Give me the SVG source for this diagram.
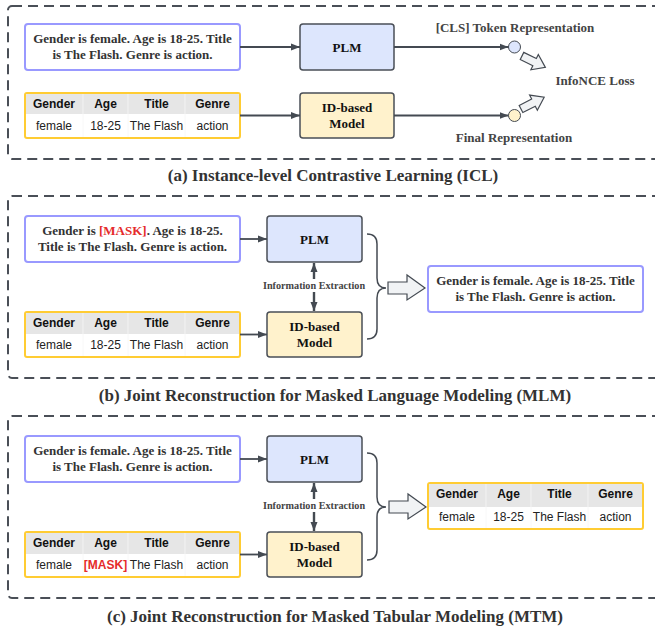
<svg xmlns="http://www.w3.org/2000/svg" width="655" height="629" viewBox="0 0 655 629">
<defs>
<marker id="ah" markerUnits="userSpaceOnUse" markerWidth="10" markerHeight="8" refX="9" refY="4" orient="auto-start-reverse">
<path d="M0,0.5 L9,4 L0,7.5 Z" fill="#444a52"/>
</marker>
<style>
.panel{fill:none;stroke:#4a4f57;stroke-width:2;stroke-dasharray:10 6}
.tbox{fill:#fff;stroke:#9999ff;stroke-width:2}
.tab{fill:#fff;stroke:#ffcc33;stroke-width:2}
.hdr{fill:#e6e6e6}
.div{stroke:#f6f6f6;stroke-width:0.8}
.plm{fill:#dde6fd;stroke:#4a4f57;stroke-width:1.5}
.idm{fill:#fff2cc;stroke:#4a4f57;stroke-width:1.5}
.st{font-family:"Liberation Serif",serif;font-weight:bold;font-size:13px;fill:#333;text-anchor:middle}
.nt{font-family:"Liberation Serif",serif;font-weight:bold;font-size:13px;fill:#111;text-anchor:middle}
.lb{font-family:"Liberation Serif",serif;font-weight:bold;font-size:13px;fill:#444;text-anchor:middle}
.ie{font-family:"Liberation Serif",serif;font-weight:bold;font-size:10.2px;fill:#444;text-anchor:middle}
.cap{font-family:"Liberation Serif",serif;font-weight:bold;font-size:17px;fill:#333;text-anchor:middle}
.th{font-family:"Liberation Sans",Arial,sans-serif;font-weight:bold;font-size:12px;fill:#111;text-anchor:middle}
.td{font-family:"Liberation Sans",Arial,sans-serif;font-size:12px;fill:#222;text-anchor:middle}
.red{fill:#e52b2b}
.ln{fill:none;stroke:#444a52;stroke-width:1.8}
.vln{fill:none;stroke:#444a52;stroke-width:2.4}
.blk{fill:#f1f3f5;stroke:#444a52;stroke-width:1.2;stroke-linejoin:miter}
.brace{fill:none;stroke:#444a52;stroke-width:1.5}
</style>
</defs>

<!-- panels -->
<g id="panels">
<rect class="panel" x="8" y="6" width="654" height="153" rx="4"/>
<rect class="panel" x="8" y="196" width="654" height="182" rx="4"/>
<rect class="panel" x="8" y="416" width="654" height="182" rx="4"/>
</g>

<!-- ===== (a) ===== -->
<g id="a-text">
<rect class="tbox" x="25" y="24" width="215" height="46" rx="3"/>
<text class="st" x="132.5" y="42.5">Gender is female. Age is 18-25. Title</text>
<text class="st" x="132.5" y="58.5">is The Flash. Genre is action.</text>
</g>
<g id="a-table">
<rect class="tab" x="25" y="93" width="215" height="45" rx="2"/>
<rect class="hdr" x="26" y="94" width="213" height="20"/>
<line class="div" x1="83" y1="94" x2="83" y2="137"/>
<line class="div" x1="128" y1="94" x2="128" y2="137"/>
<line class="div" x1="185" y1="94" x2="185" y2="137"/>
<text class="th" x="54" y="107.5">Gender</text>
<text class="th" x="105.5" y="107.5">Age</text>
<text class="th" x="156.5" y="107.5">Title</text>
<text class="th" x="212.5" y="107.5">Genre</text>
<text class="td" x="54" y="130">female</text>
<text class="td" x="105.5" y="130">18-25</text>
<text class="td" x="156.5" y="130">The Flash</text>
<text class="td" x="212.5" y="130">action</text>
</g>
<g id="a-plm">
<rect class="plm" x="300" y="24" width="94" height="46" rx="3"/>
<text class="nt" x="347" y="51.5">PLM</text>
</g>
<g id="a-id">
<rect class="idm" x="300" y="93" width="94" height="45" rx="3"/>
<text class="nt" x="347" y="112">ID-based</text>
<text class="nt" x="347" y="128">Model</text>
</g>
<g id="a-cls">
<circle cx="514.5" cy="47" r="6" fill="#dde6fd" stroke="#444a52" stroke-width="1"/>
</g>
<g id="a-final">
<circle cx="514.5" cy="115.5" r="6" fill="#fff2cc" stroke="#444a52" stroke-width="1"/>
</g>
<g id="a-labels">
<text class="lb" x="515" y="31.5">[CLS] Token Representation</text>
<text class="lb" x="595" y="84.5">InfoNCE Loss</text>
<text class="lb" x="514" y="141.5">Final Representation</text>
</g>
<text class="cap" x="333" y="181">(a) Instance-level Contrastive Learning (ICL)</text>

<!-- ===== (b) ===== -->
<g id="b-text">
<rect class="tbox" x="25" y="216" width="215" height="46" rx="3"/>
<text class="st" x="132.5" y="234.5">Gender is <tspan class="red">[MASK]</tspan>. Age is 18-25.</text>
<text class="st" x="132.5" y="250.5">Title is The Flash. Genre is action.</text>
</g>
<g id="b-table">
<rect class="tab" x="25" y="312" width="215" height="45" rx="2"/>
<rect class="hdr" x="26" y="313" width="213" height="21"/>
<line class="div" x1="83" y1="313" x2="83" y2="356"/>
<line class="div" x1="128" y1="313" x2="128" y2="356"/>
<line class="div" x1="185" y1="313" x2="185" y2="356"/>
<text class="th" x="54" y="326.5">Gender</text>
<text class="th" x="105.5" y="326.5">Age</text>
<text class="th" x="156.5" y="326.5">Title</text>
<text class="th" x="212.5" y="326.5">Genre</text>
<text class="td" x="54" y="349">female</text>
<text class="td" x="105.5" y="349">18-25</text>
<text class="td" x="156.5" y="349">The Flash</text>
<text class="td" x="212.5" y="349">action</text>
</g>
<g id="b-plm">
<rect class="plm" x="267" y="216" width="95" height="46" rx="3"/>
<text class="nt" x="314.5" y="243.5">PLM</text>
</g>
<g id="b-id">
<rect class="idm" x="267" y="312" width="95" height="45" rx="3"/>
<text class="nt" x="314.5" y="331">ID-based</text>
<text class="nt" x="314.5" y="347">Model</text>
</g>
<g id="b-out">
<rect class="tbox" x="428" y="266" width="215" height="46" rx="3"/>
<text class="st" x="535.5" y="284.5">Gender is female. Age is 18-25. Title</text>
<text class="st" x="535.5" y="300.5">is The Flash. Genre is action.</text>
</g>
<text class="cap" x="335" y="401">(b) Joint Reconstruction for Masked Language Modeling (MLM)</text>

<!-- ===== (c) ===== -->
<g id="c-text">
<rect class="tbox" x="25" y="436" width="215" height="46" rx="3"/>
<text class="st" x="132.5" y="454.5">Gender is female. Age is 18-25. Title</text>
<text class="st" x="132.5" y="470.5">is The Flash. Genre is action.</text>
</g>
<g id="c-table">
<rect class="tab" x="25" y="532" width="215" height="45" rx="2"/>
<rect class="hdr" x="26" y="533" width="213" height="21"/>
<line class="div" x1="83" y1="533" x2="83" y2="576"/>
<line class="div" x1="128" y1="533" x2="128" y2="576"/>
<line class="div" x1="185" y1="533" x2="185" y2="576"/>
<text class="th" x="54" y="546.5">Gender</text>
<text class="th" x="105.5" y="546.5">Age</text>
<text class="th" x="156.5" y="546.5">Title</text>
<text class="th" x="212.5" y="546.5">Genre</text>
<text class="td" x="54" y="569">female</text>
<text class="th red" x="105.5" y="569">[MASK]</text>
<text class="td" x="156.5" y="569">The Flash</text>
<text class="td" x="212.5" y="569">action</text>
</g>
<g id="c-plm">
<rect class="plm" x="267" y="436" width="95" height="46" rx="3"/>
<text class="nt" x="314.5" y="463.5">PLM</text>
</g>
<g id="c-id">
<rect class="idm" x="267" y="532" width="95" height="45" rx="3"/>
<text class="nt" x="314.5" y="551">ID-based</text>
<text class="nt" x="314.5" y="567">Model</text>
</g>
<g id="c-out">
<rect class="tab" x="428" y="483" width="215" height="46" rx="2"/>
<rect class="hdr" x="429" y="484" width="213" height="23"/>
<line class="div" x1="486" y1="484" x2="486" y2="528"/>
<line class="div" x1="531" y1="484" x2="531" y2="528"/>
<line class="div" x1="588" y1="484" x2="588" y2="528"/>
<text class="th" x="457" y="498">Gender</text>
<text class="th" x="508.5" y="498">Age</text>
<text class="th" x="559.5" y="498">Title</text>
<text class="th" x="615.5" y="498">Genre</text>
<text class="td" x="457" y="521">female</text>
<text class="td" x="508.5" y="521">18-25</text>
<text class="td" x="559.5" y="521">The Flash</text>
<text class="td" x="615.5" y="521">action</text>
</g>
<text class="cap" x="335" y="622">(c) Joint Reconstruction for Masked Tabular Modeling (MTM)</text>

<!-- ===== connectors ===== -->
<g id="connectors">
<line class="ln" x1="240" y1="47" x2="300" y2="47" marker-end="url(#ah)"/>
<line class="ln" x1="240" y1="115.5" x2="300" y2="115.5" marker-end="url(#ah)"/>
<line class="ln" x1="394" y1="47" x2="508.5" y2="47" marker-end="url(#ah)"/>
<line class="ln" x1="394" y1="115.5" x2="508.5" y2="115.5" marker-end="url(#ah)"/>
<path class="blk" transform="translate(522,56) rotate(26)" d="M0,-4 L14,-4 L14,-8.5 L26,0 L14,8.5 L14,4 L0,4 Z"/>
<path class="blk" transform="translate(521,109) rotate(-27)" d="M0,-4 L14,-4 L14,-8.5 L26,0 L14,8.5 L14,4 L0,4 Z"/>

<line class="ln" x1="240" y1="239" x2="267" y2="239" marker-end="url(#ah)"/>
<line class="ln" x1="240" y1="334.5" x2="267" y2="334.5" marker-end="url(#ah)"/>
<line class="vln" x1="314" y1="263" x2="314" y2="311" marker-start="url(#ah)" marker-end="url(#ah)"/>
<rect x="258" y="279" width="112" height="13" fill="#fff"/>
<text class="ie" x="314" y="289">Information Extraction</text>
<path class="brace" d="M367,234 Q377,234 377,244 L377,278 Q377,288 386,288 Q377,288 377,298 L377,329 Q377,339 367,339"/>
<path class="blk" d="M388,282 L407,282 L407,275 L425,288 L407,300 L407,294 L388,294 Z"/>

<line class="ln" x1="240" y1="459" x2="267" y2="459" marker-end="url(#ah)"/>
<line class="ln" x1="240" y1="554.5" x2="267" y2="554.5" marker-end="url(#ah)"/>
<line class="vln" x1="314" y1="483" x2="314" y2="531" marker-start="url(#ah)" marker-end="url(#ah)"/>
<rect x="258" y="499" width="112" height="13" fill="#fff"/>
<text class="ie" x="314" y="509">Information Extraction</text>
<path class="brace" d="M367,453 Q377,453 377,463 L377,497 Q377,507 386,507 Q377,507 377,517 L377,550 Q377,560 367,560"/>
<path class="blk" d="M389,501 L408,501 L408,494 L426,507 L408,519 L408,513 L389,513 Z"/>
</g>
</svg>
